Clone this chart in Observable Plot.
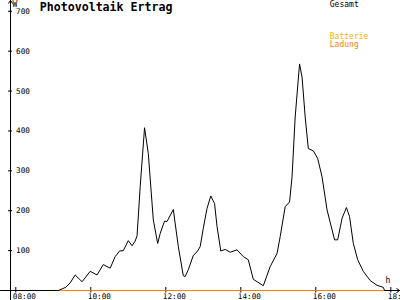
<!DOCTYPE html>
<html>
<head>
<meta charset="utf-8">
<script src="https://cdn.jsdelivr.net/npm/d3@7"></script>
<script src="https://cdn.jsdelivr.net/npm/@observablehq/plot@0.6"></script>
<style>
  html, body { margin: 0; padding: 0; background: #fff; overflow: hidden; }
</style>
</head>
<body>
<script>
// ---- data ----
const title = "Photovoltaik Ertrag";
const seriesNames = ["Gesamt", "Batterie", "Ladung"];
const gesamtTimes = ["09:08","09:20","09:27","09:35","09:46","09:59","10:10","10:20","10:31","10:39","10:46","10:52",
  "11:00","11:06","11:11","11:14","11:19","11:26","11:32","11:40","11:47","11:51","11:58","12:02","12:12","12:20",
  "12:28","12:31","12:36","12:44","12:50","12:55","13:00","13:06","13:12","13:18","13:22","13:28","13:35","13:43",
  "13:54","14:04","14:12","14:20","14:36","14:47","14:58","15:03","15:11","15:18","15:22","15:27","15:34","15:38",
  "15:43","15:48","15:56","16:03","16:10","16:18","16:30","16:35","16:42","16:49","16:54","17:00","17:07","17:16",
  "17:27","17:38","17:48","17:50"];
const gesamtValues = [0,8,19,39,22,48,39,65,56,85,99,100,
  125,112,124,137,260,408,343,177,118,143,174,173,203,110,
  37,35,52,88,97,110,156,206,237,218,160,99,103,96,
  102,85,77,28,12,60,93,135,210,222,285,435,568,535,
  435,356,350,331,285,202,127,127,181,208,185,118,77,48,
  25,13,8,0];
const ladungTimes = ["09:08","17:50"];
const ladungValues = [0, 0];
const xTicks = [8, 10, 12, 14, 16, 18];
const yTicks = [100, 200, 300, 400, 500, 600, 700];
const yUnit = "W";
const xUnit = "h";

// ---- helpers ----
const toH = s => { const [h, m] = s.split(":").map(Number); return h + m / 60; };
const fmtT = h => String(h).padStart(2, "0") + ":00";
const gesamt = gesamtTimes.map((t, i) => ({t: toH(t), v: gesamtValues[i]}));
const ladung = ladungTimes.map((t, i) => ({t: toH(t), v: ladungValues[i]}));

const pxPerHour = 37.5;
const t0 = 8 - 5.3 / pxPerHour;          // left edge of frame
const t1 = t0 + 390 / pxPerHour;         // right edge
const yMax = 727;
const yBottom = -10 * yMax / 290;        // bottom of svg
const mono = "DejaVu Sans Mono";

const chart = Plot.plot({
  width: 400,
  height: 300,
  marginLeft: 10,
  marginRight: 0,
  marginTop: 0,
  marginBottom: 10,
  x: {type: "linear", domain: [t0, t1]},
  y: {type: "linear", domain: [0, yMax]},
  style: {fontFamily: mono, fontSize: "7.7px", background: "#fff", color: "#000", overflow: "hidden"},
  marks: [
    // axis lines with arrows
    Plot.arrow([0], {x1: t0, x2: t0, y1: yBottom, y2: yMax, stroke: "#000", strokeWidth: 1, headLength: 5, headAngle: 70}),
    Plot.arrow([0], {x1: t0 - 10 / pxPerHour, x2: t1 - 1 / pxPerHour, y1: 0, y2: 0, stroke: "#000", strokeWidth: 1, headLength: 5, headAngle: 70}),
    // y axis ticks and labels
    Plot.axisY(yTicks, {anchor: "left", tickSize: 4, dx: 2, tickPadding: -7.5, textAnchor: "start", label: null, fontSize: 7.7}),
    // x axis ticks and labels
    Plot.axisX(xTicks, {anchor: "bottom", tickSize: 5.5, dy: -3, tickFormat: () => "", label: null}),
    Plot.axisX(xTicks, {anchor: "bottom", tickSize: 0, tickPadding: 3, dx: -3, textAnchor: "start", tickFormat: fmtT, label: null, fontSize: 7.7}),
    // series
    Plot.line(ladung, {x: "t", y: "v", stroke: "#ff8000", strokeWidth: 1}),
    Plot.line(gesamt, {x: "t", y: "v", stroke: "#000", strokeWidth: 1}),
    // title & legend
    Plot.text([title], {text: d => d, frameAnchor: "top-left", dx: 29.3, dy: 2.5, textAnchor: "start", lineAnchor: "top",
      fontWeight: "bold", fontSize: 11.6, fontFamily: mono, fill: "#000"}),
    Plot.text([seriesNames[0]], {text: d => d, frameAnchor: "top-left", dx: 319.3, dy: 1, textAnchor: "start", lineAnchor: "top",
      fontSize: 8, fontFamily: mono, fill: "#000"}),
    Plot.text([seriesNames[1]], {text: d => d, frameAnchor: "top-left", dx: 319.3, dy: 33, textAnchor: "start", lineAnchor: "top",
      fontSize: 8, fontFamily: mono, fill: "#ffb000"}),
    Plot.text([seriesNames[2]], {text: d => d, frameAnchor: "top-left", dx: 319.3, dy: 41, textAnchor: "start", lineAnchor: "top",
      fontSize: 8, fontFamily: mono, fill: "#ff8000"}),
    // units
    Plot.text([yUnit], {text: d => d, frameAnchor: "top-left", dx: 2, dy: 0.5, textAnchor: "start", lineAnchor: "top",
      fontSize: 8, fontFamily: mono, fill: "#000"}),
    Plot.text([xUnit], {text: d => d, frameAnchor: "bottom-right", dx: -15, dy: -8, textAnchor: "start", lineAnchor: "bottom",
      fontSize: 8, fontFamily: mono, fill: "#000"})
  ]
});
document.body.appendChild(chart);
</script>
</body>
</html>
